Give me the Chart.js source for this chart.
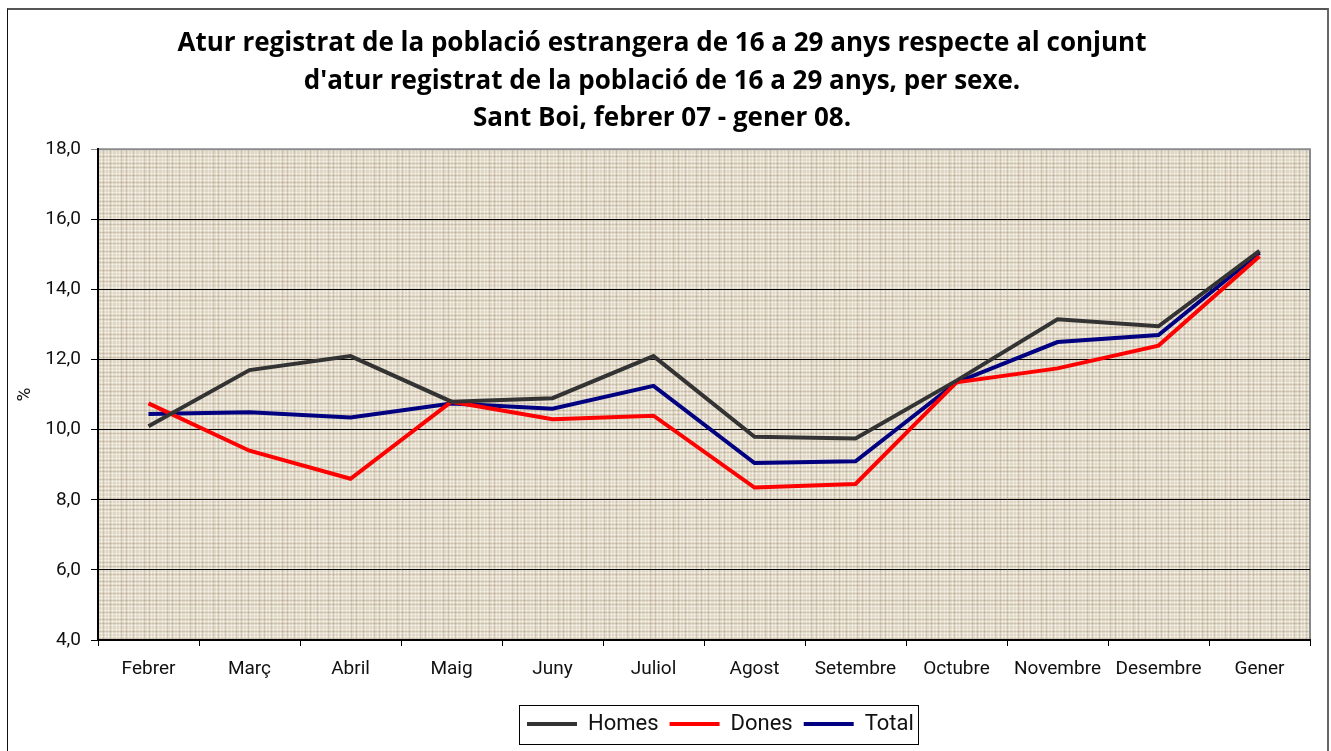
<!DOCTYPE html>
<html>
<head>
<meta charset="utf-8">
<script src="https://cdn.jsdelivr.net/npm/chart.js@4"></script>
<style>
  html, body { margin: 0; padding: 0; background: #fff; overflow: hidden; }
  #frame { position: absolute; left: 7px; top: 8px; width: 1319px; height: 800px;
           border-top: 2px solid #555; border-left: 1px solid #111; border-right: 2px solid #666; }
  #wrap { position: absolute; left: 0; top: 0; width: 1331px; height: 751px; }
</style>
</head>
<body>
<div id="frame"></div>
<div id="wrap"><canvas id="chart" width="1331" height="751"></canvas></div>
<script>
const months = ['Febrer', 'Març', 'Abril', 'Maig', 'Juny', 'Juliol', 'Agost', 'Setembre', 'Octubre', 'Novembre', 'Desembre', 'Gener'];
const homes = [10.1, 11.7, 12.1, 10.8, 10.9, 12.1, 9.8, 9.75, 11.4, 13.15, 12.95, 15.1];
const dones = [10.75, 9.4, 8.6, 10.8, 10.3, 10.4, 8.35, 8.45, 11.35, 11.75, 12.4, 14.95];
const total = [10.45, 10.5, 10.35, 10.75, 10.6, 11.25, 9.05, 9.1, 11.35, 12.5, 12.7, 15.05];
const yTicks = [4, 6, 8, 10, 12, 14, 16, 18];

const FONT = 'Roboto';

// burlap-like texture for the plot background
function makeTexture() {
  const c = document.createElement('canvas');
  c.width = 23; c.height = 19;
  const g = c.getContext('2d');
  g.fillStyle = '#dfd6c6';
  g.fillRect(0, 0, 23, 19);
  g.fillStyle = 'rgba(250,247,240,0.5)';
  [1, 4, 9, 13, 16, 20].forEach(x => g.fillRect(x, 0, 1, 19));
  [2, 6, 9, 13, 17].forEach(y => g.fillRect(0, y, 23, 1));
  g.fillStyle = 'rgba(150,132,105,0.25)';
  [6, 11, 18].forEach(x => g.fillRect(x, 0, 1, 19));
  [4, 11, 15].forEach(y => g.fillRect(0, y, 23, 1));
  return g.createPattern(c, 'repeat');
}

const plotBg = {
  id: 'plotBg',
  afterUpdate(chart) {
    // shift the legend block to where the reference draws it
    const lg = chart.legend;
    const boxes = lg.legendHitBoxes;
    if (!boxes || !boxes.length) return;
    const dx = 527 - Math.min(...boxes.map(b => b.left));
    lg.left += dx; lg.right += dx;
    boxes.forEach(b => { b.left += dx; });
  },
  beforeDraw(chart) {
    const { ctx, chartArea: a } = chart;
    ctx.save();
    ctx.fillStyle = makeTexture();
    ctx.fillRect(a.left, a.top, a.width, a.height);
    ctx.strokeStyle = '#8a8a8a';
    ctx.lineWidth = 2;
    ctx.beginPath();
    ctx.moveTo(a.left, a.top);
    ctx.lineTo(a.right, a.top);
    ctx.lineTo(a.right, a.bottom);
    ctx.stroke();
    ctx.restore();
  },
  afterDraw(chart) {
    const boxes = chart.legend.legendHitBoxes;
    if (!boxes || !boxes.length) return;
    const l = Math.min(...boxes.map(b => b.left)) - 8;
    const r = Math.max(...boxes.map(b => b.left + b.width)) + 4;
    const t = boxes[0].top - 8;
    const b = boxes[0].top + boxes[0].height + 9;
    const ctx = chart.ctx;
    ctx.save();
    ctx.strokeStyle = '#000';
    ctx.lineWidth = 1;
    ctx.strokeRect(Math.round(l) + 0.5, Math.round(t) + 0.5, Math.round(r - l), Math.round(b - t));
    ctx.restore();
  }
};

new Chart(document.getElementById('chart'), {
  type: 'line',
  data: {
    labels: months,
    datasets: [
      { label: 'Homes', data: homes, borderColor: '#333333', backgroundColor: '#333333', borderWidth: 4 },
      { label: 'Dones', data: dones, borderColor: '#ff0000', backgroundColor: '#ff0000', borderWidth: 4 },
      { label: 'Total', data: total, borderColor: '#000080', backgroundColor: '#000080', borderWidth: 4 }
    ]
  },
  options: {
    responsive: false,
    devicePixelRatio: 1,
    animation: false,
    layout: { padding: { left: 14, right: 21, top: 0, bottom: 6 } },
    elements: {
      line: { tension: 0 },
      point: { radius: 0 }
    },
    plugins: {
      title: {
        display: true,
        text: [
          'Atur registrat de la població estrangera de 16 a 29 anys respecte al conjunt',
          "d'atur registrat de la població de 16 a 29 anys, per sexe.",
          'Sant Boi, febrer 07 - gener 08.'
        ],
        color: '#000',
        font: { family: 'Open Sans', size: 26, weight: 'bold', lineHeight: 1.44 },
        padding: { top: 25, bottom: 12 }
      },
      legend: {
        position: 'bottom',
        labels: {
          usePointStyle: true,
          pointStyle: 'line',
          pointStyleWidth: 50,
          boxHeight: 22,
          color: '#111',
          font: { family: FONT, size: 22 },
          padding: 11
        }
      },
      tooltip: { enabled: false }
    },
    scales: {
      x: {
        offset: true,
        afterFit(scale) { scale.height = 62; },
        grid: { offset: true, drawOnChartArea: false, drawTicks: true, tickLength: 6, color: '#000' },
        border: { color: '#000', width: 2 },
        ticks: { color: '#111', font: { family: FONT, size: 19 }, padding: 12, maxRotation: 0, autoSkip: false }
      },
      y: {
        min: 4,
        max: 18,
        afterBuildTicks(scale) { scale.ticks = yTicks.map(v => ({ value: v })); },
        afterFit(scale) { scale.width = 84; },
        title: { display: true, text: '%', color: '#111', font: { family: FONT, size: 19 }, padding: 0 },
        grid: {
          color: ctx => (ctx.tick && ctx.tick.value === 18 ? '#8a8a8a' : '#000'),
          tickLength: 7,
          lineWidth: 1
        },
        border: { color: '#000', width: 2 },
        ticks: {
          color: '#111',
          font: { family: FONT, size: 19 },
          padding: 10,
          callback: v => v.toFixed(1).replace('.', ',')
        }
      }
    }
  },
  plugins: [plotBg]
});
</script>
</body>
</html>
